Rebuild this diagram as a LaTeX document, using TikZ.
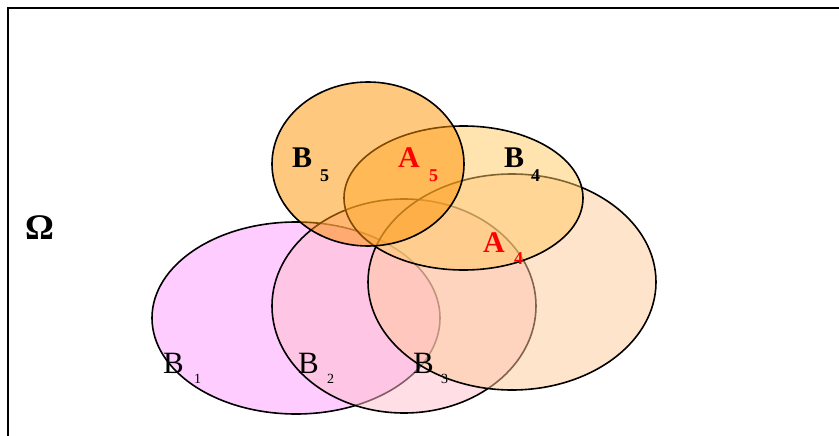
\documentclass[tikz,border=0pt]{standalone}
\usepackage{fontspec}
\setmainfont{Liberation Serif}
\definecolor{cB1}{RGB}{255,204,255}
\definecolor{cB2}{RGB}{255,192,203}
\definecolor{cB3}{RGB}{255,201,153}
\definecolor{cB4}{RGB}{255,201,97}
\definecolor{cB5}{RGB}{255,145,0}
\tikzset{
  setshape/.style={draw=black, line width=1.6pt, fill opacity=0.5, draw opacity=1},
  bigB/.style={anchor=base west, inner sep=0pt, font=\fontsize{30}{30}\selectfont\bfseries},
  smallsub/.style={anchor=base west, inner sep=0pt, font=\fontsize{18}{18}\selectfont\bfseries},
  plainB/.style={anchor=base west, inner sep=0pt, font=\fontsize{31}{31}\selectfont},
  plainsub/.style={anchor=base west, inner sep=0pt, font=\fontsize{14}{14}\selectfont},
}
\begin{document}
\begin{tikzpicture}[x=1pt,y=-1pt]
\useasboundingbox (0,0) rectangle (839,436);
\begin{scope}
\clip (0,0) rectangle (839,436);
\draw[line width=1.6pt] (8,460) -- (8,8) -- (860,8);
\end{scope}
\path[setshape, fill=cB1, fill opacity=1] (296,318) ellipse [x radius=144, y radius=96];
\path[setshape, fill=cB2] (404,306) ellipse [x radius=132, y radius=107];
\path[setshape, fill=cB3] (512,282) ellipse [x radius=144, y radius=108];
\path[setshape, fill=cB4] (463.5,198) ellipse [x radius=119.5, y radius=72];
\path[setshape, fill=cB5] (368,164) ellipse [x radius=96, y radius=82];
\node[anchor=base west, inner sep=0pt, font=\fontsize{36}{36}\selectfont\bfseries] (omega) at (25,239) {Ω};
\node[bigB] (b5) at (292,167) {B};
\node[smallsub] (b5s) at (320,182) {5};
\node[bigB, text=red] (a5) at (398,167) {A};
\node[smallsub, text=red] (a5s) at (429,182) {5};
\node[bigB] (b4) at (504,167) {B};
\node[smallsub] (b4s) at (531,181) {4};
\node[bigB, text=red] (a4) at (483,252) {A};
\node[smallsub, text=red] (a4s) at (514,264) {4};
\node[plainB] (b1) at (163,373) {B};
\node[plainsub] (b1s) at (194,383) {1};
\node[plainB] (b2) at (298,373) {B};
\node[plainsub] (b2s) at (327,383) {2};
\node[plainB] (b3) at (413,373) {B};
\node[plainsub] (b3s) at (441,383) {3};
\end{tikzpicture}
\end{document}
